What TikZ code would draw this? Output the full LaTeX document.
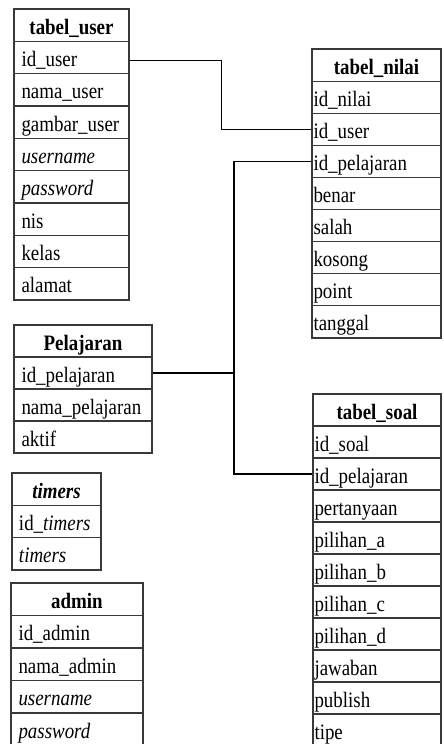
\documentclass[tikz,border=0pt]{standalone}
\usepackage{fontspec}
\setmainfont{Liberation Serif}[FakeStretch=0.86]
\tikzset{
  cellbox/.style={draw=gray!45!black, line width=1.2pt, rectangle, inner ysep=0pt,
    font=\fontsize{22}{26}\selectfont, text height=20pt, text depth=2pt, align=left},
  hdrbox/.style={cellbox, align=center, inner xsep=0pt},
  conn/.style={draw=black, line width=1.1pt}
}
% #1 name, #2 x, #3 top y, #4 width, #5 row height, #6 pad, #7 header, #8 rows
\newcommand{\ertable}[8]{%
  \node[hdrbox, minimum width=#4pt, minimum height=#5pt, text width=#4pt] (#1-0) at (#2+#4/2, #3+#5/2) {#7};
  \foreach \t [count=\i] in {#8} {
    \node[cellbox, minimum width=#4pt, minimum height=#5pt, inner xsep=#6pt,
      text width=\the\dimexpr #4pt - #6pt - #6pt\relax] (#1-\i) at (#2+#4/2, #3+#5/2+\i*#5) {\t};
  }%
}
\begin{document}
\begin{tikzpicture}[x=1pt,y=-1pt]
\useasboundingbox (0,0) rectangle (444,744);
\clip (0,0) rectangle (444,744);
\fill[white] (0,0) rectangle (444,744);

\ertable{user}{14}{9}{115}{32.33}{7.5}{\textbf{tabel\_user}}
  {id\_user, nama\_user, gambar\_user, \textit{username}, \textit{password}, nis, kelas, alamat}
\ertable{nilai}{312}{49}{129}{32.1}{1.5}{\textbf{tabel\_nilai}}
  {id\_nilai, id\_user, id\_pelajaran, benar, salah, kosong, point, tanggal}
\ertable{pel}{14}{325}{138}{32}{7.5}{\textbf{Pelajaran}}
  {id\_pelajaran, nama\_pelajaran, aktif}
\ertable{timers}{12}{473}{89}{32.33}{7}{\textbf{\textit{timers}}}
  {id\_\textit{timers}, \textit{timers}}
\ertable{admin}{11}{583}{132}{32.5}{7.5}{\textbf{admin}}
  {id\_admin, nama\_admin, \textit{username}, \textit{password}}
\ertable{soal}{313}{394}{128}{32}{1.5}{\textbf{tabel\_soal}}
  {id\_soal, id\_pelajaran, pertanyaan, pilihan\_a, pilihan\_b, pilihan\_c, pilihan\_d, jawaban, publish, tipe}

\coordinate (J2) at (234,371);
\draw[conn] ([yshift=-3pt]user-1.east) -- ++(92,0) |- (nilai-2.west);
\draw[conn] (nilai-3.west) -| (J2) |- (soal-2.west);
\draw[conn] (pel-1.east) -- (pel-1.east -| J2);
\end{tikzpicture}
\end{document}
